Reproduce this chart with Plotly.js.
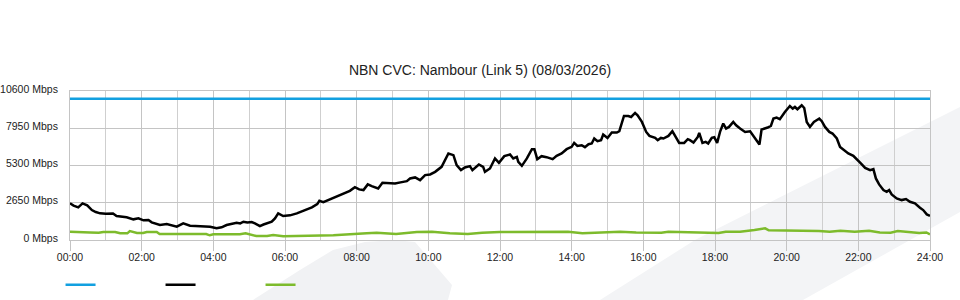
<!DOCTYPE html>
<html>
<head>
<meta charset="utf-8">
<script src="https://cdn.plot.ly/plotly-3.0.1.min.js"></script>
<style>html,body{margin:0;padding:0;background:#fff;}#chart{width:960px;height:300px;}</style>
</head>
<body>
<div id="chart"></div>
<script>
// Chart values (time in hours of the day, Mbps)
const chartTitle = "NBN CVC: Nambour (Link 5) (08/03/2026)";
const xTickHours = [0, 2, 4, 6, 8, 10, 12, 14, 16, 18, 20, 22, 24];
const xTickLabels = ["00:00", "02:00", "04:00", "06:00", "08:00", "10:00", "12:00", "14:00", "16:00", "18:00", "20:00", "22:00", "24:00"];
const yTickValues = [0, 2650, 5300, 7950, 10600];
const yTickLabels = ["0 Mbps", "2650 Mbps", "5300 Mbps", "7950 Mbps", "10600 Mbps"];

const capacityHours = [0, 24];
const capacityMbps = [10050, 10050];

const trafficHours = [0.00,0.10,0.23,0.35,0.48,0.61,0.72,0.84,1.00,1.12,1.20,1.30,1.45,1.58,1.77,1.91,2.05,2.19,2.28,2.40,2.51,2.70,2.85,2.98,3.16,3.35,3.50,3.63,3.80,3.91,4.09,4.23,4.37,4.50,4.65,4.75,4.84,4.95,5.07,5.16,5.30,5.40,5.49,5.63,5.72,5.81,5.95,6.14,6.33,6.47,6.61,6.75,6.90,6.96,7.07,7.21,7.40,7.49,7.63,7.81,7.95,8.07,8.19,8.31,8.42,8.60,8.72,8.88,9.07,9.26,9.40,9.49,9.63,9.77,9.91,10.05,10.19,10.37,10.47,10.56,10.70,10.79,10.91,11.02,11.16,11.23,11.41,11.53,11.58,11.72,11.86,11.97,12.12,12.28,12.37,12.47,12.51,12.61,12.75,12.89,12.96,13.04,13.16,13.30,13.47,13.58,13.72,13.86,14.00,14.07,14.16,14.28,14.37,14.47,14.56,14.63,14.72,14.82,14.88,15.00,15.12,15.26,15.33,15.46,15.58,15.66,15.77,15.84,15.96,16.08,16.17,16.33,16.40,16.49,16.56,16.70,16.81,16.90,17.00,17.14,17.24,17.30,17.40,17.52,17.56,17.65,17.74,17.81,17.91,17.98,18.06,18.14,18.23,18.31,18.39,18.51,18.59,18.70,18.84,18.98,19.12,19.24,19.30,19.40,19.47,19.56,19.63,19.72,19.81,19.95,20.09,20.17,20.23,20.30,20.42,20.49,20.56,20.65,20.76,20.91,20.98,21.07,21.19,21.28,21.40,21.49,21.58,21.72,21.86,21.96,22.07,22.19,22.33,22.42,22.49,22.58,22.70,22.79,22.86,22.93,23.07,23.21,23.33,23.44,23.58,23.72,23.81,23.91,24.00];
const trafficMbps = [2606,2450,2322,2606,2464,2130,1990,1896,1860,1846,1880,1704,1660,1612,1470,1541,1399,1420,1257,1160,1065,1136,1020,944,1186,1015,1000,994,980,944,831,902,1065,1120,1230,1180,1300,1240,1278,1186,994,1100,1186,1300,1540,1896,1704,1754,1896,2038,2130,2322,2556,2790,2698,2840,3074,3124,3316,3500,3760,3600,3550,3955,3834,3671,4068,4026,4026,4118,4189,4381,4452,4260,4615,4665,4849,5204,5680,6156,6035,5325,4970,5162,5254,4970,5375,5204,4849,5091,5801,5488,5964,6085,5801,5914,5559,5275,5801,6461,6461,5751,5964,5893,5751,5985,6156,6461,6624,6908,6695,6745,6603,6816,6866,7221,7029,7100,7505,7263,7647,7647,7739,8825,8825,8754,9038,8875,8399,7689,7405,7263,7100,7263,7221,7405,7739,7334,6908,6908,7171,7100,6937,7334,7618,6908,6979,6866,7263,7313,6908,7689,8286,7931,8044,8399,8165,7931,7689,7739,7221,6795,7860,7931,8002,8115,8641,8712,8591,9109,9535,9351,9464,9301,9585,9393,8399,8044,8399,8641,8449,8044,7689,7576,7221,6624,6461,6156,5985,5751,5446,5133,4970,5041,4381,3955,3550,3429,3550,3245,2961,2840,2911,2719,2606,2293,2130,1825,1725];

const lowHours = [0.00,0.30,0.56,0.80,0.93,1.26,1.40,1.60,1.67,1.87,2.04,2.14,2.42,2.50,3.00,3.50,3.80,3.90,4.00,4.56,4.74,4.90,5.02,5.20,5.50,5.67,5.95,6.42,6.98,7.35,8.28,8.56,9.10,9.68,10.10,10.60,11.10,11.50,12.00,12.90,13.40,13.90,14.30,14.80,15.35,15.80,16.10,16.50,16.70,17.20,17.60,18.10,18.30,18.70,19.10,19.40,19.50,20.40,20.60,20.90,21.20,21.50,21.90,22.30,22.60,22.90,23.10,23.40,23.70,23.90,24.00];
const lowMbps = [590,590,540,510,568,568,475,475,639,497,497,568,568,426,426,426,426,334,405,405,405,475,405,284,284,355,263,284,355,334,475,520,426,568,590,475,426,520,568,590,568,590,475,520,590,540,520,520,590,540,497,497,590,590,710,830,690,690,639,639,590,660,590,660,540,520,639,568,497,540,405];

const FONT = "Liberation Sans, Arial, Helvetica, sans-serif";

const traces = [
  {x: capacityHours, y: capacityMbps, type: "scatter", mode: "lines", name: "",
   line: {color: "#12a0e0", width: 2.5}, hoverinfo: "skip"},
  {x: trafficHours, y: trafficMbps, type: "scatter", mode: "lines", name: "",
   line: {color: "#000000", width: 2.5}, hoverinfo: "skip"},
  {x: lowHours, y: lowMbps, type: "scatter", mode: "lines", name: "",
   line: {color: "#7dbb2c", width: 2.5}, hoverinfo: "skip"}
];

const layout = {
  width: 960, height: 300,
  margin: {l: 70, r: 30, t: 91, b: 60, pad: 0, autoexpand: false},
  paper_bgcolor: "#ffffff",
  plot_bgcolor: "rgba(0,0,0,0)",
  font: {family: FONT, size: 10.5, color: "#222"},
  title: {text: chartTitle, font: {family: FONT, size: 14, color: "#222"},
          x: 0.5, xanchor: "center", xref: "container", y: 0.767, yref: "container", yanchor: "middle"},
  showlegend: true,
  legend: {orientation: "h", x: -0.011, xanchor: "left", y: -0.30, yanchor: "middle",
           entrywidth: 55, entrywidthmode: "pixels", itemwidth: 30,
           bgcolor: "rgba(0,0,0,0)", font: {size: 10.5}},
  xaxis: {range: [0, 24], tickmode: "array", tickvals: xTickHours, ticktext: xTickLabels,
          ticks: "outside", ticklen: 10, tickcolor: "#c4c4c4", tickwidth: 1, ticklabelstandoff: -3,
          showgrid: true, gridcolor: "#c4c4c4", gridwidth: 1,
          minor: {dtick: 1, tick0: 0, showgrid: true, gridcolor: "#cfcfcf", gridwidth: 1, ticks: ""},
          showline: true, mirror: true, linecolor: "#c4c4c4", linewidth: 1,
          zeroline: false, fixedrange: true, tickfont: {size: 10.5, color: "#222"}},
  yaxis: {range: [0, 10600], tickmode: "array", tickvals: yTickValues, ticktext: yTickLabels,
          ticks: "", ticklabelstandoff: 9, ticklabelshift: -2,
          showgrid: true, gridcolor: "#c4c4c4", gridwidth: 1,
          showline: true, mirror: true, linecolor: "#c4c4c4", linewidth: 1,
          zeroline: false, fixedrange: true, tickfont: {size: 10.5, color: "#222"}},
  shapes: [
    {type: "path", xref: "paper", yref: "paper", layer: "below", line: {width: 0}, fillcolor: "#f1f2f4",
     path: "M0.2128,-0.4027 L0.2674,-0.2013 L0.3058,-0.0671 L0.3430,-0.0134 L0.3779,0 L0.4012,-0.0134 L0.4442,-0.302 L0.4395,-0.4027 Z"},
    {type: "path", xref: "paper", yref: "paper", layer: "below", line: {width: 0}, fillcolor: "#f3f4f6",
     path: "M0.6163,-0.4027 L0.7267,0 L1.0349,0.8926 L1.0349,0.1879 L0.8523,-0.4027 Z"}
  ]
};

Plotly.newPlot("chart", traces, layout, {staticPlot: true, displayModeBar: false});
</script>
</body>
</html>
